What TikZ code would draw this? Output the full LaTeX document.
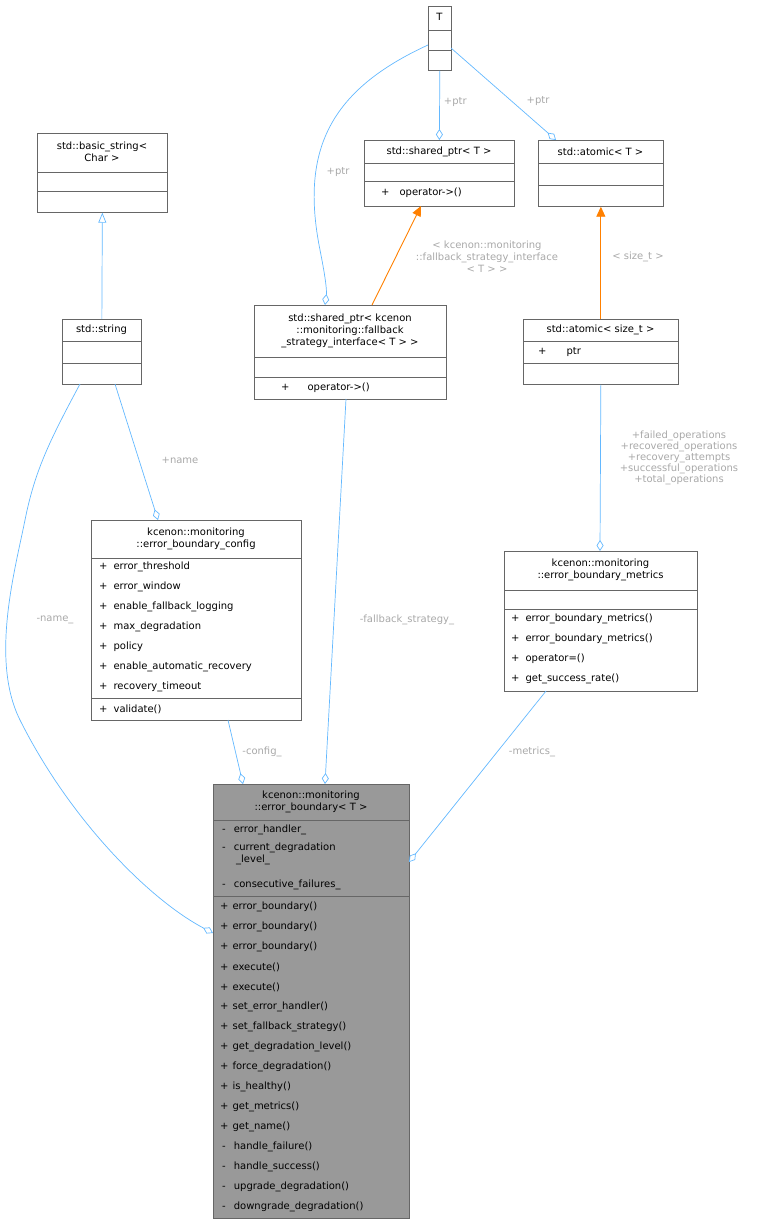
\documentclass[tikz,border=0pt]{standalone}
\usepackage{fontspec}
\setmainfont{DejaVu Sans}
\usetikzlibrary{arrows.meta}
\definecolor{edge}{HTML}{63B8FF}
\definecolor{lbl}{HTML}{A8A8A8}
\definecolor{bx}{HTML}{666666}
\begin{document}
\begin{tikzpicture}[x=1pt,y=-1pt,font=\fontsize{10}{12}\selectfont,
  cls/.style={draw=bx,anchor=north west,inner sep=0,line width=0.7pt},
  ln/.style={draw=bx,line width=0.7pt},
  t/.style={inner sep=0,anchor=west},
  ct/.style={inner sep=0,align=center},
  lb/.style={inner sep=0,align=center,text=lbl},
  agg/.style={draw=edge,line width=0.7pt,-{Diamond[open,length=11pt,width=7pt]}},
  inh/.style={draw=edge,line width=0.7pt,-{Triangle[open,length=10pt,width=8pt]}},
  tpl/.style={draw=orange,line width=0.9pt,-{Triangle[length=10pt,width=9pt,fill=orange]}}]
\useasboundingbox (0,0) rectangle (762,1224);
% T
\node[cls,minimum width=23pt,minimum height=64pt] (T) at (428,6) {};
\node[ct] at (439.5,17) {T};
\draw[ln] (428,30)--(451,30) (428,50)--(451,50);
% basic_string
\node[cls,minimum width=130pt,minimum height=79pt] (bs) at (37,133) {};
\node[ct] at (102,152) {std::basic\_string<\\Char >};
\draw[ln] (37,172)--(167,172) (37,191)--(167,191);
% std::string
\node[cls,minimum width=79pt,minimum height=65pt] (str) at (62,319) {};
\node[ct] at (101.5,330) {std::string};
\draw[ln] (62,341)--(141,341) (62,363)--(141,363);
% shared_ptr<T>
\node[cls,minimum width=150pt,minimum height=66pt] (spT) at (364,140) {};
\node[ct] at (439,152) {std::shared\_ptr< T >};
\draw[ln] (364,163)--(514,163) (364,181)--(514,181);
\node[t] at (381,193) {+\hspace{10pt}operator->()};
% atomic<T>
\node[cls,minimum width=125pt,minimum height=66pt] (atT) at (538,140) {};
\node[ct] at (600.5,152) {std::atomic< T >};
\draw[ln] (538,163)--(663,163) (538,185)--(663,185);
% shared_ptr<kcenon>
\node[cls,minimum width=192pt,minimum height=94pt] (spK) at (254,305) {};
\node[ct] at (350,331) {std::shared\_ptr< kcenon\\::monitoring::fallback\\\_strategy\_interface< T > >};
\draw[ln] (254,357)--(446,357) (254,377)--(446,377);
\node[t] at (281,388) {+\hspace{18pt}operator->()};
% atomic<size_t>
\node[cls,minimum width=155pt,minimum height=65pt] (atS) at (523,319) {};
\node[ct] at (600.5,330) {std::atomic< size\_t >};
\draw[ln] (523,341)--(678,341) (523,363)--(678,363);
\node[t] at (538,352) {+\hspace{20pt}ptr};
% config
\node[cls,minimum width=210pt,minimum height=200pt] (cfg) at (91,520) {};
\node[ct] at (196,539) {kcenon::monitoring\\::error\_boundary\_config};
\draw[ln] (91,558)--(301,558) (91,698)--(301,698);
\foreach \s [count=\i] in {error\_threshold,error\_window,enable\_fallback\_logging,max\_degradation,policy,enable\_automatic\_recovery,recovery\_timeout}
  \node[t] at (99,547+20*\i) {+\hspace{6pt}\s};
\node[t] at (99,709) {+\hspace{6pt}validate()};
% metrics
\node[cls,minimum width=193pt,minimum height=140pt] (met) at (504,551) {};
\node[ct] at (600.5,570) {kcenon::monitoring\\::error\_boundary\_metrics};
\draw[ln] (504,590)--(697,590) (504,609)--(697,609);
\foreach \s [count=\i] in {error\_boundary\_metrics(),error\_boundary\_metrics(),operator=(),get\_success\_rate()}
  \node[t] at (511,599+20*\i) {+\hspace{6pt}\s};
% error_boundary
\node[cls,fill=black!40,minimum width=196pt,minimum height=434pt] (eb) at (213,784) {};
\node[ct] at (311,802) {kcenon::monitoring\\::error\_boundary< T >};
\draw[ln] (213,820)--(409,820) (213,896)--(409,896);
\node[t] at (222,830) {-\hspace{8pt}error\_handler\_};
\node[t,align=left,anchor=north west] at (222,843) {-\hspace{8pt}current\_degradation\\\hspace{14pt}\_level\_};
\node[t] at (222,885) {-\hspace{8pt}consecutive\_failures\_};
\foreach \s [count=\i] in {error\_boundary(),error\_boundary(),error\_boundary(),execute(),execute(),set\_error\_handler(),set\_fallback\_strategy(),get\_degradation\_level(),force\_degradation(),is\_healthy(),get\_metrics(),get\_name()}
  \node[t] at (220,887+20*\i) {+\hspace{4pt}\s};
\foreach \s [count=\i] in {handle\_failure(),handle\_success(),upgrade\_degradation(),downgrade\_degradation()}
  \node[t] at (222,1127+20*\i) {-\hspace{8pt}\s};
% edges
\draw[agg] (T.south) -- (spT.north) node[lb,pos=0.45,right=4pt] {+ptr};
\draw[agg] (451,48) -- (556,140) coordinate (a1);
\node[lb] at (538,101) {+ptr};
\draw[agg] (428,45) .. controls (330,90) and (300,150) .. (320,250) .. controls (325,275) and (327,290) .. (325,305);
\node[lb] at (338,172) {+ptr};
\draw[tpl] (372,305) -- (421,206);
\node[lb] at (487,257) {< kcenon::monitoring\\::fallback\_strategy\_interface\\< T > >};
\draw[tpl] (atS.north) -- (atT.south);
\node[lb] at (638,257) {< size\_t >};
\draw[inh] (str.north) -- (bs.south);
\draw[agg] (115,384) -- (158,520);
\node[lb] at (180,460) {+name};
\draw[agg] (atS.south) -- (600,551);
\node[lb,font=\fontsize{10}{11}\selectfont] at (679,458) {+failed\_operations\\+recovered\_operations\\+recovery\_attempts\\+successful\_operations\\+total\_operations};
\draw[agg] (80,384) .. controls (50,440) and (35,470) .. (25,520) .. controls (15,570) and (-10,660) .. (20,720) .. controls (70,820) and (150,900) .. (213,933);
\node[lb] at (55,620) {-name\_};
\draw[agg] (346,399) -- (325,784);
\node[lb] at (407,620) {-fallback\_strategy\_};
\draw[agg] (228,720) -- (243,784);
\node[lb] at (262,752) {-config\_};
\draw[agg] (546,691) -- (409,862);
\node[lb] at (532,752) {-metrics\_};
\end{tikzpicture}
\end{document}
